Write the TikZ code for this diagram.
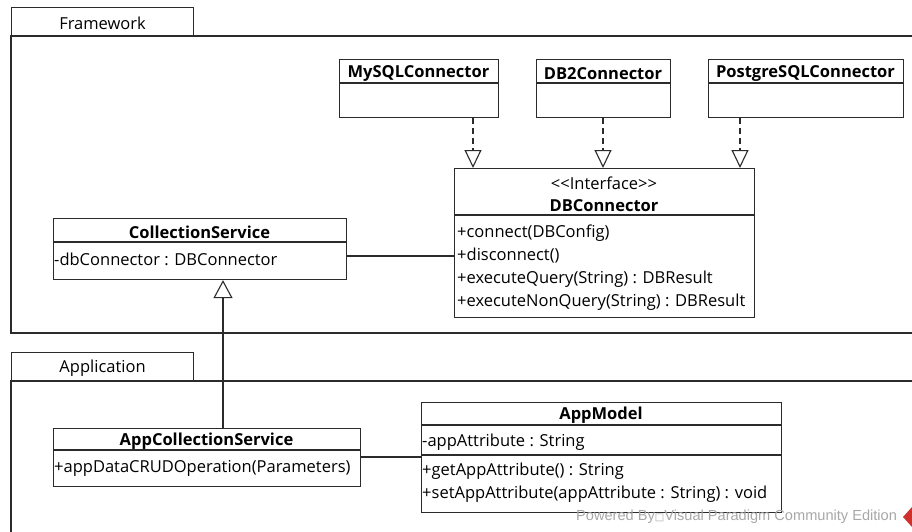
\documentclass[tikz,border=0pt]{standalone}
\usepackage{fontspec}
\setmainfont{Open Sans}
\newfontfamily\wmfont{Liberation Sans}
\newfontfamily\symfont{DejaVu Sans}
\usetikzlibrary{arrows.meta}
\definecolor{linec}{HTML}{2B2B2B}
\definecolor{wmgray}{HTML}{A8A8A8}
\definecolor{vpred}{HTML}{D0312D}
\newcommand\umlfs{\fontsize{16.5}{19}\selectfont}
\tikzset{
  classbox/.style={draw=linec, line width=1.1pt, fill=white, anchor=north west, inner sep=0pt},
  sepline/.style={draw=linec, line width=1.1pt},
  ctitle/.style={font=\bfseries\umlfs, inner sep=0pt, anchor=center, text=black, yshift=-1.5pt},
  cmember/.style={font=\umlfs, inner sep=0pt, anchor=west, text=black, yshift=-1.5pt},
  pkgline/.style={draw=linec, line width=1.1pt},
  pkgtext/.style={font=\umlfs, inner sep=0pt, anchor=center, text=black, yshift=-1.5pt},
  realize/.style={draw=linec, line width=1.1pt, dash pattern=on 6pt off 4pt, -{Triangle[open, width=17pt, length=18pt, line width=1.1pt]}},
  inherit/.style={draw=linec, line width=1.1pt, -{Triangle[open, width=19pt, length=18pt, line width=1.1pt]}},
  assoc/.style={draw=linec, line width=1.1pt}
}
\begin{document}
\begin{tikzpicture}[x=1pt,y=-1pt]
\useasboundingbox (0,0) rectangle (912,532);
\fill[white] (0,0) rectangle (912,532);
% Framework package
\node[draw=linec, line width=1.1pt, anchor=north west, minimum width=182pt, minimum height=29pt, inner sep=0pt] (fwtab) at (11,7) {};
\node[pkgtext] (fwlabel) at (fwtab.center) {Framework};
\draw[pkgline] (925,36) -- (11,36) -- (11,333) -- (925,333);
% Application package
\node[draw=linec, line width=1.1pt, anchor=north west, minimum width=182pt, minimum height=29pt, inner sep=0pt] (aptab) at (11,352) {};
\node[pkgtext] (aplabel) at (aptab.center) {Application};
\draw[pkgline] (925,381) -- (11,381) -- (11,545);

% MySQLConnector
\node[classbox, minimum width=159pt, minimum height=58pt] (mysql) at (339,59) {};
\draw[sepline] (339,83) -- (498,83);
\node[ctitle] (mysqlt) at (418.5,72) {MySQLConnector};
% DB2Connector
\node[classbox, minimum width=134pt, minimum height=58pt] (db2) at (536,59) {};
\draw[sepline] (536,83) -- (670,83);
\node[ctitle] (db2t) at (603,72) {DB2Connector};
% PostgreSQLConnector
\node[classbox, minimum width=195pt, minimum height=58pt] (pg) at (708,59) {};
\draw[sepline] (708,83) -- (903,83);
\node[ctitle] (pgt) at (805.5,72) {PostgreSQLConnector};

% DBConnector
\node[classbox, minimum width=300pt, minimum height=149pt] (dbc) at (454,168) {};
\draw[sepline] (454,215) -- (754,215);
\node[pkgtext] (dbcst) at (604,182) {<{}<Interface>{}>};
\node[ctitle] (dbct) at (604,204) {DBConnector};
\node[cmember] (dbm1) at (457,231.5) {+connect(DBConfig)};
\node[cmember] (dbm2) at (457,254.5) {+disconnect()};
\node[cmember] (dbm3) at (457,277.5) {+executeQuery(String) : DBResult};
\node[cmember] (dbm4) at (457,300.5) {+executeNonQuery(String) : DBResult};

% CollectionService
\node[classbox, minimum width=293pt, minimum height=61pt] (cs) at (53,218) {};
\draw[sepline] (53,242) -- (346,242);
\node[ctitle] (cst) at (199.5,231) {CollectionService};
\node[cmember] (csa1) at (54,257.5) {-dbConnector : DBConnector};

% AppCollectionService
\node[classbox, minimum width=307pt, minimum height=58pt] (acs) at (53,428) {};
\draw[sepline] (53,450) -- (360,450);
\node[ctitle] (acst) at (206.5,440) {AppCollectionService};
\node[cmember] (acsm1) at (54,466.5) {+appDataCRUDOperation(Parameters)};

% AppModel
\node[classbox, minimum width=360pt, minimum height=110pt] (am) at (421,402) {};
\draw[sepline] (421,425) -- (781,425);
\draw[sepline] (421,455) -- (781,455);
\node[ctitle] (amt) at (601,413.5) {AppModel};
\node[cmember] (ama1) at (422,440.5) {-appAttribute : String};
\node[cmember] (amm1) at (422,469.5) {+getAppAttribute() : String};
\node[cmember] (amm2) at (422,492.5) {+setAppAttribute(appAttribute : String) : void};

% connectors
\coordinate (x1) at (473,0);
\coordinate (x2) at (603,0);
\coordinate (x3) at (740,0);
\coordinate (xg) at (223,0);
\coordinate (ya) at (0,256);
\coordinate (yb) at (0,457);
\draw[realize] (mysql.south -| x1) -- (dbc.north -| x1);
\draw[realize] (db2.south -| x2) -- (dbc.north -| x2);
\draw[realize] (pg.south -| x3) -- (dbc.north -| x3);
\draw[inherit] (acs.north -| xg) -- (cs.south -| xg);
\draw[assoc] (cs.east |- ya) -- (dbc.west |- ya);
\draw[assoc] (acs.east |- yb) -- (am.west |- yb);

% watermark
\node[font=\wmfont\fontsize{14.6}{16}\selectfont, text=wmgray, anchor=west, inner sep=0pt] (wm) at (576,517) {Powered By{\symfont\fontsize{10}{11}\selectfont □}Visual Paradigm Community Edition};
\fill[vpred] (903,517) -- (912,507) -- (912,527) -- cycle;
\end{tikzpicture}
\end{document}
